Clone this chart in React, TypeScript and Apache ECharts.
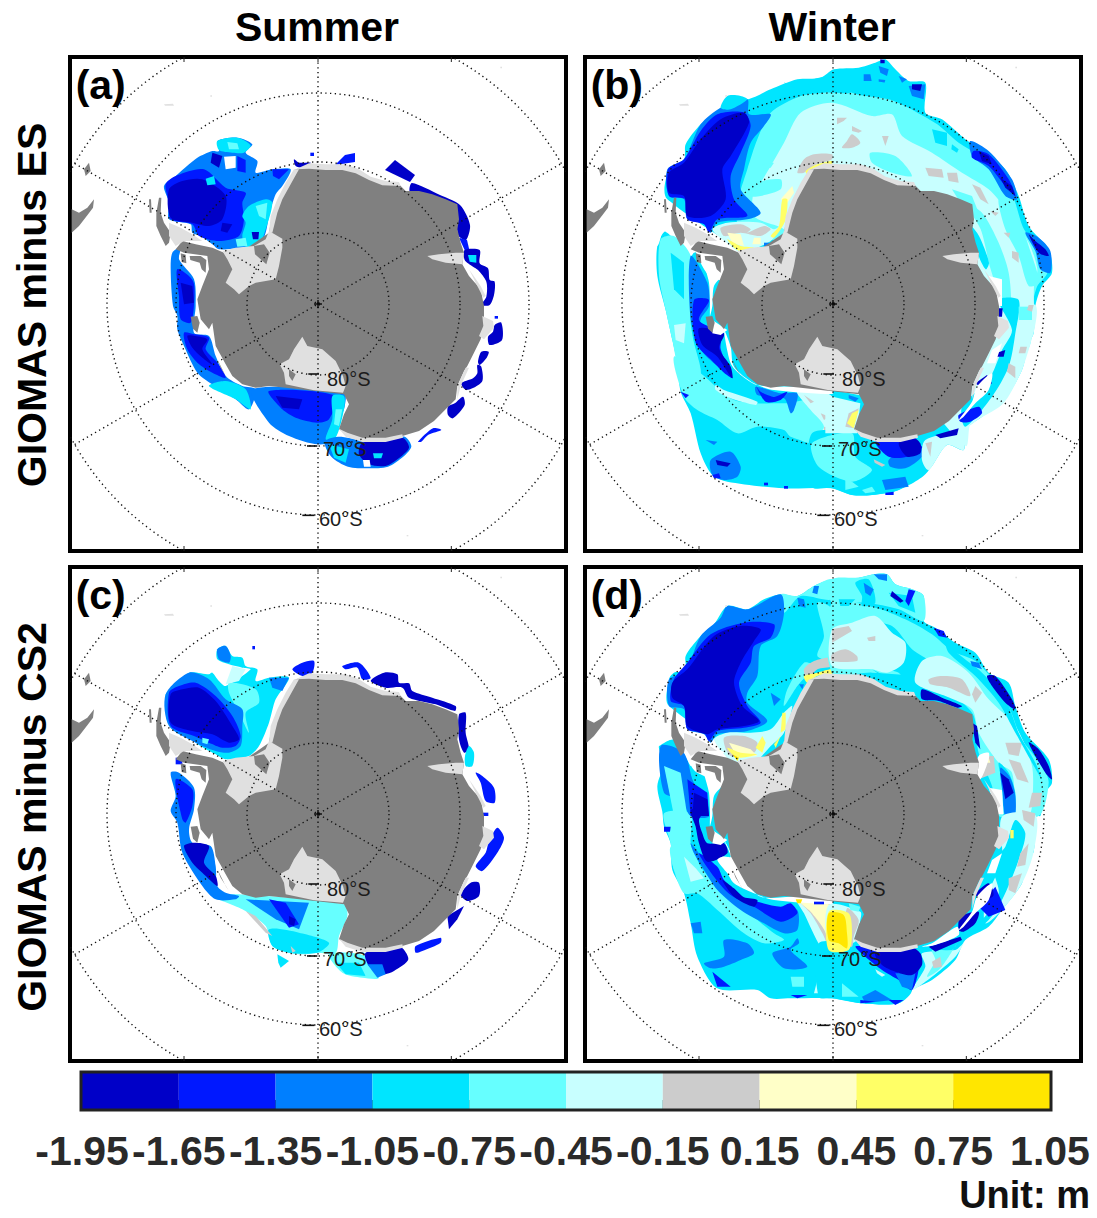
import React, { useEffect, useRef } from "react";
import * as echarts from "echarts";

// colour classes of the colour bar (last one: no-data white, land colours after)
const binColors = ["#0000C8", "#0018FF", "#007FFF", "#00E5FF", "#66FFFF", "#C8FFFF", "#CCCCCC", "#FFFFC8", "#FFFF66", "#FFE600"];
const W = 10, DARK = 11, ICE = 12;
const allColors = [...binColors, "#FFFFFF", "#808080", "#E0E0E0"];
const colorTicks = ["-1.95", "-1.65", "-1.35", "-1.05", "-0.75", "-0.45", "-0.15", "0.15", "0.45", "0.75", "1.05"];
const binIndex = [0, 1, 2, 3, 4, 5, 6, 7, 8, 9];

const ringRadii = [213, 426, 633, 843];
const spokeAngles = [90, 30, -30];
const pole = [747, 744];
const latLabels = [
  { text: "80°S", x: 774, y: 968, t0: 718, t1: 750, ty: 954 },
  { text: "70°S", x: 762, y: 1180, t0: 714, t1: 745, ty: 1170 },
  { text: "60°S", x: 750, y: 1388, t0: 700, t1: 736, ty: 1378 },
];
const frameTicks = [345, 747, 1147];

// [class, tileX, tileY, outline "x,y x,y ..."]
type Layer = [number, number, number, string];

const landLayers: Layer[] = [
  [DARK, 0, 0, "600,530 605,500 620,450 640,410 660,370 680,340 720,330 770,335 820,335 860,345 900,365 940,385 990,385 1010,405 1050,405 1090,415 1130,430 1165,445 1170,490 1165,520 1175,560 1185,590 1180,625 1200,660 1235,700 1245,750 1245,810 1235,850 1215,890 1195,930 1185,945 1165,990 1160,1030 1130,1060 1095,1095 1050,1125 1000,1140 950,1150 880,1150 835,1135 810,1120 825,1075 840,1045 825,1015 650,995 600,990 560,995 520,985 490,960 470,925 440,870 430,800 420,820 395,790 385,730 400,690 420,640 415,600 345,590 320,580 340,555 380,565 430,575 465,590 500,600"],
  [DARK, 0, 0, "262,470 270,425 277,425 275,470 285,500 305,530 300,560 290,570 275,540 262,510"],
  [DARK, 0, 0, "240,430 246,430 248,470 242,470"],
  [DARK, 0, 0, "335,592 350,596 352,622 338,618"],
  [DARK, 0, 0, "362,600 395,600 412,612 410,650 398,640 392,620 364,612"],
  [DARK, 0, 0, "365,782 385,780 392,800 385,830 372,818"],
  [DARK, 0, 0, "445,910 470,960 480,975 455,935"],
  [DARK, 0, 0, "75,430 72,455 55,478 30,510 8,530 8,460 30,470 55,455"],
  [DARK, 0, 0, "45,340 60,320 65,345 50,360"],
  [ICE, 0, 0, "285,145 312,143 315,149 288,149"],
  [ICE, 0, 0, "424,118 429,118 429,122 424,122"],
  [ICE, 0, 0, "1294,32 1299,32 1299,37 1294,37"],
  [ICE, 0, 0, "1013,1437 1018,1437 1018,1441 1013,1441"],
  [ICE, 0, 0, "300,500 335,515 370,535 400,555 345,555 320,570 300,540"],
  [ICE, 0, 0, "460,585 500,575 555,570 590,550 600,525 640,548 640,575 630,630 620,670 560,680 540,690 510,715 495,700 470,680 490,640 475,610"],
  [DARK, 0, 0, "555,570 585,565 602,590 592,625 575,610 558,595"],
  [ICE, 0, 0, "600,530 605,480 625,430 650,380 675,340 690,340 665,385 640,430 625,470 610,530"],
  [ICE, 0, 0, "680,340 720,322 770,325 830,325 870,340 905,362 950,375 990,378 995,390 940,388 900,372 860,352 820,342 770,342 720,338"],
  [ICE, 0, 0, "1075,600 1110,595 1160,590 1185,590 1180,625 1130,620 1090,610"],
  [ICE, 0, 0, "1200,640 1235,690 1250,720 1243,725 1225,690"],
  [ICE, 0, 0, "1240,780 1272,795 1275,815 1245,850 1230,840 1243,810"],
  [ICE, 0, 0, "1165,990 1190,935 1200,935 1175,990 1165,1030"],
  [ICE, 0, 0, "700,842 715,870 760,880 800,915 822,960 830,990 822,1010 735,1003 650,985 645,950 632,925 660,910 675,880"],
  [ICE, 0, 0, "810,1118 835,1130 880,1145 950,1145 1000,1135 1002,1145 950,1158 880,1158 830,1142"],
  [DARK, 0, 0, "660,940 680,955 670,975 660,960"],
];

const panelA: Layer[] = [
  [2, 0, 0, "445,255 505,245 550,265 530,290 565,315 560,350 610,340 665,340 640,390 620,415 600,480 590,530 570,570 520,575 450,580 430,565 395,540 370,530 365,505 300,490 300,440 285,390 320,360 360,325 385,305 430,285 450,285"],
  [W, 0, 0, "465,302 500,300 500,335 470,340"],
  [3, 0, 0, "445,255 505,245 545,268 525,290 490,290 450,282"],
  [4, 0, 0, "475,258 505,262 510,280 480,280"],
  [1, 0, 0, "290,385 325,358 405,340 470,395 530,410 520,440 525,490 510,540 450,555 390,540 370,505 305,490 300,440"],
  [1, 0, 0, "505,300 530,312 530,350 505,345"],
  [0, 0, 0, "300,400 340,375 400,370 470,420 460,490 420,510 370,500 305,485"],
  [0, 0, 0, "430,290 460,300 450,335 425,320"],
  [0, 0, 0, "460,500 490,505 475,530 455,525"],
  [3, 0, 0, "520,480 540,450 590,430 610,440 590,520 570,565 530,572 520,540 530,500"],
  [4, 0, 0, "560,450 595,440 590,490 570,480"],
  [4, 0, 0, "500,550 530,545 535,570 505,572"],
  [3, 0, 0, "410,368 435,360 440,385 415,388"],
  [0, 0, 0, "548,528 570,528 568,550 552,550"],
  [1, 0, 0, "610,340 660,340 630,370 612,360"],
  [0, 0, 0, "675,310 690,320 725,320 705,335 680,330"],
  [1, 0, 0, "724,290 735,290 735,300 724,300"],
  [1, 0, 0, "828,297 858,291 858,318 798,327"],
  [0, 0, 0, "978,312 1038,357 1023,378 948,342"],
  [0, 0, 0, "1029,381 1113,417 1173,447 1203,507 1191,552 1167,537 1158,468 1083,438 1023,408"],
  [1, 0, 0, "1170,545 1194,552 1203,590 1187,582"],
  [0, 747, 582, "440,0 485,0 485,40 510,55 515,90 530,95 528,135 515,165 490,165 505,140 505,95 480,60 465,50 440,30"],
  [3, 747, 582, "450,15 475,15 475,38 455,35"],
  [1, 747, 582, "530,198 540,198 540,206 530,206"],
  [0, 747, 582, "530,225 550,218 552,270 515,285 510,260 525,245"],
  [0, 747, 582, "490,305 512,305 505,325 485,345 480,335"],
  [0, 747, 582, "478,345 490,350 492,395 445,420 430,400 465,385 478,370"],
  [0, 747, 582, "435,440 440,465 405,505 390,495 390,470 410,460"],
  [1, 747, 582, "300,575 345,535 370,540 330,555 310,575"],
  // Bellingshausen / Amundsen coast
  [2, 0, 0, "310,590 335,575 330,610 375,670 380,750 375,830 420,840 440,900 470,960 520,990 560,1000 540,1060 500,1030 430,985 385,950 345,870 325,820 325,780 312,750 305,640"],
  [1, 0, 0, "325,640 372,675 375,745 365,800 335,790 330,720"],
  [2, 0, 0, "320,590 332,585 328,612 318,620"],
  [0, 0, 0, "335,680 370,690 375,740 345,745"],
  [1, 0, 0, "345,830 378,835 420,845 410,880 445,920 470,965 430,950 385,920 355,880"],
  [0, 0, 0, "355,840 378,840 415,850 400,880 430,925 400,905 370,875"],
  [3, 0, 0, "420,990 470,975 530,1000 545,1060 500,1030"],
  // Ross sea
  [2, 0, 0, "550,1000 825,1012 827,1052 812,1092 797,1142 880,1150 747,1165 660,1140 600,1100"],
  [1, 0, 0, "600,1005 800,1020 780,1090 745,1100 680,1085 640,1060"],
  [0, 0, 0, "620,1020 700,1030 690,1060 640,1055"],
  [3, 0, 0, "790,1020 825,1020 825,1060 800,1145 770,1150 790,1090"],
  [4, 0, 0, "800,1060 820,1060 810,1110 795,1105"],
  [2, 0, 0, "767,1157 807,1142 877,1152 947,1157 1007,1142 1027,1172 997,1207 957,1232 897,1237 837,1232 787,1202"],
  [0, 0, 0, "880,1160 1000,1145 1020,1175 985,1210 950,1230 900,1225 870,1195"],
  [3, 0, 0, "780,1165 840,1180 830,1220 795,1205"],
  [W, 747, 582, "135,630 155,630 158,650 138,650"],
  [3, 747, 582, "165,610 195,610 190,625 168,625"],
];

const panelC: Layer[] = [
  [3, 0, 0, "445,250 470,240 490,270 520,275 530,300 565,310 560,345 600,335 660,335 620,400 600,470 570,540 540,570 470,580 440,565 380,530 365,505 305,480 300,430 290,385 330,355 360,320 420,325 430,320 450,345 470,360 545,310 520,305 480,295 445,280"],
  [2, 0, 0, "445,250 470,240 485,270 480,290 450,280"],
  [4, 0, 0, "480,350 560,370 570,410 530,440 540,500 510,440 480,380"],
  [5, 0, 0, "490,300 530,310 510,345 470,355"],
  [2, 0, 0, "360,320 420,340 470,400 520,430 520,480 515,540 480,560 440,555 380,530 300,480 290,385"],
  [1, 0, 0, "300,380 330,360 380,350 440,390 490,450 515,510 500,540 460,545 420,530 375,510 305,480"],
  [0, 0, 0, "305,385 340,370 390,365 440,405 490,480 510,520 480,530 430,505 370,495 305,470"],
  [4, 0, 0, "400,515 420,520 415,535 400,530"],
  [2, 0, 0, "600,335 660,335 640,375 610,365"],
  [1, 0, 0, "550,240 558,240 558,250 550,250"],
  [1, 0, 0, "670,310 700,290 735,285 730,320 700,330"],
  [1, 0, 0, "820,300 870,290 905,335 880,340 865,305 830,310"],
  [0, 0, 0, "905,345 945,320 985,325 990,350 1020,352 1030,375 1090,395 1160,420 1158,435 1100,415 1020,395 1000,365 950,365"],
  [0, 0, 0, "1170,445 1190,440 1190,500 1200,550 1185,560 1170,520"],
  [3, 0, 0, "1200,540 1215,560 1210,600 1190,600 1188,570"],
  [1, 0, 0, "1220,620 1240,630 1275,665 1277,710 1250,705 1235,650"],
  [1, 0, 0, "1240,740 1258,740 1258,750 1240,750"],
  [1, 0, 0, "1285,785 1305,815 1285,860 1240,915 1220,900 1250,860 1260,825"],
  [0, 0, 0, "1205,950 1230,950 1230,990 1195,1005 1175,985"],
  [0, 0, 0, "1135,1050 1185,1020 1165,1060 1140,1090"],
  [1, 0, 0, "1040,1140 1115,1115 1115,1130 1060,1155 1040,1160"],
  [4, 0, 0, "780,1165 890,1170 930,1235 880,1235 820,1220"],
  [3, 0, 0, "800,1190 870,1190 890,1230 830,1225"],
  [0, 0, 0, "890,1160 990,1140 1018,1180 975,1215 940,1225 900,1200"],
  [2, 0, 0, "895,1195 940,1195 950,1225 925,1235"],
  [3, 0, 0, "625,1165 660,1185 635,1205 628,1190"],
  [4, 0, 0, "510,985 825,1015 835,1050 810,1110 800,1160 745,1160 700,1165 660,1160 610,1140 590,1080 520,1030 430,990"],
  [3, 0, 0, "600,1090 690,1100 780,1130 745,1160 660,1160 610,1140"],
  [2, 0, 0, "530,1000 720,1010 690,1090 620,1060"],
  [1, 0, 0, "600,1000 650,1010 690,1075 660,1085"],
  [0, 0, 0, "660,1050 680,1060 675,1080 660,1075"],
  [6, 0, 0, "530,1035 560,1050 610,1110 590,1100"],
  [6, 0, 0, "665,1140 680,1155 670,1160"],
  [1, 0, 0, "320,575 340,575 340,595 320,595"],
  [2, 0, 0, "305,620 330,620 375,665 375,730 360,790 370,830 425,840 440,900 445,960 470,980 510,990 500,1000 440,1000 400,960 340,860 325,770 305,735 320,690"],
  [1, 0, 0, "320,640 370,670 370,720 350,770 340,760"],
  [0, 0, 0, "345,840 375,830 420,840 405,890 440,930 445,960 400,920 370,890"],
];

const panelB: Layer[] = [
  [3, 0, 0, "250,430 255,340 300,310 305,265 350,205 410,155 450,120 490,130 560,100 640,70 710,65 750,40 824,35 874,20 904,10 934,40 974,75 1024,80 1024,170 1074,190 1144,250 1204,290 1264,340 1304,420 1334,510 1394,580 1404,650 1374,690 1354,750 1349,832 1334,862 1314,942 1254,1042 1194,1082 1144,1122 1139,1182 1089,1167 1034,1242 944,1302 864,1317 804,1317 744,1297 600,1297 430,1277 385,1257 350,1192 320,1072 290,1007 280,922 265,852 245,762 220,660 220,570 245,525 300,540 330,580 380,660 800,800"],
  [4, 0, 0, "460,440 490,340 520,250 560,170 650,120 720,110 744,110 844,110 924,130 1000,170 1060,205 1124,260 1190,300 1250,350 1290,430 1320,520 1375,590 1390,650 1360,690 1345,750 1340,860 1290,950 1200,1050 1000,900 800,700 600,560 500,540 460,500"],
  [3, 0, 0, "600,80 660,100 690,70 744,60 800,60 800,110 700,100"],
  [2, 744, 0, "95,55 115,55 120,80 95,85"],
  [2, 744, 0, "140,30 170,40 165,60 145,50"],
  [2, 744, 0, "140,70 160,72 155,90 140,85"],
  [2, 744, 0, "200,60 225,70 210,80"],
  [0, 744, 0, "145,10 158,12 158,22 145,22"],
  [2, 744, 0, "230,90 280,85 275,130 240,120"],
  [0, 744, 0, "240,85 270,85 265,105 240,100"],
  [3, 744, 0, "50,80 160,80 240,130 270,170 170,130 60,110"],
  [5, 0, 0, "510,400 530,380 600,260 650,170 744,140 864,180 924,175 954,240 1044,290 1134,350 1214,400 1274,470 1334,560 1360,640 1350,690 1350,800 1340,860 1310,950 1260,1040 1200,1080 1160,1100 1145,1170 1000,1000 800,700 600,520 510,480"],
  [4, 0, 0, "500,420 520,380 590,370 590,400 530,420"],
  [4, 744, 0, "115,290 190,300 240,360 180,350 120,320"],
  [4, 0, 0, "535,325 570,320 560,335 540,338"],
  [3, 744, 0, "300,220 345,230 345,270 310,260"],
  [3, 744, 0, "360,265 380,280 375,290 358,280"],
  [4, 744, 0, "500,430 550,470 600,600 620,680 590,690 560,600 520,520"],
  [4, 0, 0, "1144,440 1194,470 1244,560 1274,650 1280,750 1260,750 1220,640 1190,520"],
  [3, 0, 0, "1160,510 1185,540 1215,620 1205,640 1180,590"],
  [4, 744, 0, "360,400 420,420 440,470 410,480"],
  [2, 744, 0, "580,530 620,545 655,585 655,650 625,640 610,585"],
  [0, 744, 0, "590,535 610,555 640,580 650,600 620,590"],
  [2, 744, 0, "415,255 470,285 540,370 555,430 520,420 470,340 420,300"],
  [1, 744, 0, "425,285 470,295 530,370 550,420 520,390 470,330 420,305"],
  [0, 744, 0, "440,285 470,300 480,325 450,315"],
  [0, 744, 0, "505,365 540,390 550,420 520,395"],
  [6, 744, 0, "280,335 330,340 335,365 290,360"],
  [6, 744, 0, "345,350 375,350 380,380 350,375"],
  [6, 744, 0, "420,385 445,395 470,445 445,430"],
  [6, 744, 0, "45,255 60,235 85,260 60,275 30,275"],
  [6, 744, 0, "60,210 90,225 80,230 60,225"],
  [6, 744, 0, "150,240 170,240 160,270"],
  [6, 744, 0, "15,185 45,185 35,195 15,205"],
  [6, 744, 0, "540,585 560,590 560,620 540,605"],
  [6, 744, 0, "475,465 500,470 490,480"],
  [6, 744, 0, "515,530 535,530 530,545"],
  // Weddell
  [2, 0, 0, "410,155 490,130 495,175 560,175 540,210 500,260 480,340 470,400 530,470 490,490 400,500 380,530 360,500 310,490 300,430 255,420 250,340 300,310 350,205"],
  [3, 0, 0, "430,120 470,120 490,130 440,160 410,155"],
  [1, 0, 0, "300,310 350,225 400,175 480,170 500,210 470,290 440,360 450,430 490,480 400,490 375,530 360,505 310,490 305,430 255,420 252,340"],
  [0, 0, 0, "255,350 300,320 350,250 410,190 480,170 495,200 440,300 415,340 425,430 380,480 310,480 300,420 255,410"],
  [5, 0, 0, "385,520 430,500 530,500 570,520 590,510 560,555 470,590 440,570"],
  [6, 0, 0, "410,515 470,505 500,520 490,530 540,510 560,520 530,540 470,530 420,540"],
  [7, 0, 0, "430,530 470,535 480,570 445,560"],
  [8, 0, 0, "430,550 470,570 510,575 470,585 450,575"],
  [7, 0, 0, "510,545 530,545 530,565 505,565"],
  [6, 0, 0, "640,350 660,310 690,295 744,295 744,310 700,325 660,350"],
  [8, 0, 0, "665,345 700,325 745,315 740,330 700,340 670,355"],
  [7, 0, 0, "590,430 625,390 630,410 610,440"],
  [8, 0, 0, "595,430 610,430 605,490 590,520 570,545 560,540 585,510"],
  [2, 0, 0, "540,560 555,560 555,570 540,570"],
  [W, 0, 0, "180,440 255,435 285,470 320,510 370,540 420,560 330,590 320,600 240,525 220,570 180,570"],
  // west sector
  [4, 0, 0, "230,550 270,540 320,600 320,740 320,800 330,860 350,940 345,1000 300,950 280,922 265,852 245,762 225,660"],
  [3, 0, 0, "260,590 300,620 300,730 270,700"],
  [5, 0, 0, "270,807 305,802 300,862 275,852"],
  [2, 0, 0, "320,600 370,680 375,750 350,790 345,850 410,900 440,950 400,930 350,880 320,790"],
  [1, 0, 0, "330,732 375,732 345,792 410,832 410,880 445,965 420,950 380,910 335,860"],
  [0, 0, 732, "345,85 420,100 405,145 440,200 445,235 400,170 355,135"],
  [4, 0, 732, "270,170 350,220 450,300 600,310 720,300 745,440 620,410 600,390 520,380 460,400 400,360 340,330 300,290"],
  [5, 0, 732, "395,255 420,270 520,305 515,315 440,295 395,270"],
  [2, 0, 732, "515,260 590,280 640,280 630,330 620,340 600,295 520,285"],
  [1, 0, 732, "515,255 530,275 570,290 610,275 590,300 545,305"],
  [2, 0, 732, "380,480 440,455 470,500 460,530 420,540 385,525"],
  [0, 0, 732, "395,480 440,490 430,500 400,495"],
  [1, 0, 732, "385,525 405,520 410,535 390,535"],
  [2, 0, 732, "365,420 400,425 390,435"],
  [1, 0, 732, "290,275 315,285 305,295"],
  [5, 0, 732, "640,275 745,290 745,440 690,420 720,380 680,330"],
  [6, 0, 732, "660,285 690,305 680,310"],
  [6, 0, 732, "710,340 735,350 720,360"],
  [6, 0, 732, "720,380 750,385 745,420 720,410"],
  [5, 0, 732, "700,510 745,520 745,550 700,550"],
  [1, 0, 732, "540,548 552,548 552,556 540,556"],
  [1, 0, 732, "600,558 612,558 612,566 600,566"],
  // south-east sector
  [3, 744, 732, "-60,400 70,400 120,430 270,420 290,510 200,570 120,585 60,585 0,565 -60,560"],
  [4, 744, 732, "-60,430 60,400 70,470 120,510 60,545 -40,500"],
  [4, 744, 732, "40,530 80,560 40,570"],
  [4, 744, 732, "100,580 130,575 120,560 90,570"],
  [5, 744, 732, "-20,285 85,310 75,400 -20,400"],
  [6, 744, 732, "50,340 80,325 65,385 40,380"],
  [8, 744, 732, "60,340 80,330 65,385 45,370"],
  [2, 744, 732, "50,285 80,295 70,305 50,295"],
  [2, 744, 732, "170,480 225,440 270,440 270,470 220,505 175,500"],
  [1, 744, 732, "130,425 200,425 270,440 225,470 170,470"],
  [0, 744, 732, "200,430 240,410 265,430 265,460 225,470"],
  [2, 744, 732, "150,540 220,530 230,560 160,570"],
  [1, 744, 732, "160,578 185,575 185,585 160,585"],
  [6, 744, 732, "125,478 160,495 150,500 128,488"],
  [5, 744, 732, "280,420 390,400 395,450 345,435 290,510 270,480"],
  [6, 744, 732, "280,430 300,425 295,470"],
  [5, 744, 732, "390,390 450,350 510,310 570,210 590,130 605,100 610,15 520,20 500,150 440,300"],
  [3, 744, 732, "390,320 470,240 510,150 540,90 500,0 560,0 550,100 530,200 480,290 400,380"],
  [4, 744, 732, "560,20 600,20 600,60 560,60"],
  [0, 744, 732, "310,405 380,385 375,405 325,415"],
  [1, 744, 732, "380,345 440,320 450,340 415,365 385,365"],
  [0, 744, 732, "430,250 465,225 480,250 450,265"],
  [0, 744, 732, "490,160 520,150 515,170 490,170"],
  [0, 744, 732, "498,25 512,25 510,50 498,50"],
  [6, 744, 732, "590,15 605,15 600,35 585,30"],
  [6, 744, 732, "530,190 550,200 550,235 525,215"],
  [6, 744, 732, "565,140 585,140 580,160 560,160"],
  [W, 744, 732, "465,190 480,150 510,130 490,190"],
  [W, 744, 732, "380,360 420,305 435,260 480,220 470,270 430,310 395,350"],
  [W, 744, 0, "470,660 510,670 510,750 490,750"],
  [W, 0, 732, "420,90 440,140 450,200 510,250 570,270 745,282 745,270 640,260 520,255 470,225 440,190"],
  [W, 0, 732, "385,60 430,90 410,105 385,100"],
  [W, 0, 732, "745,270 825,285 825,275"],
  [W, 0, 0, "360,600 420,600 420,650 390,690 385,750 378,780 378,740 375,680"],
];

const panelD: Layer[] = [
  [3, 0, 0, "255,420 255,340 270,320 305,315 305,270 350,210 390,175 430,120 490,130 540,100 590,85 640,90 690,60 744,40 824,35 869,25 909,25 934,55 984,70 1019,90 1019,165 1054,185 1114,230 1174,260 1214,320 1274,350 1294,420 1324,500 1394,580 1404,650 1384,680 1369,750 1354,747 1349,857 1319,902 1314,952 1254,1032 1214,1082 1144,1122 1114,1182 1044,1242 984,1272 944,1312 834,1312 744,1297 620,1297 560,1297 520,1272 400,1267 340,1172 320,1072 300,982 265,912 260,832 240,782 235,737 220,660 240,590 225,540 270,520 300,560 340,620 800,800"],
  [4, 0, 0, "590,85 640,90 690,60 744,40 744,100 650,90 600,140"],
  [2, 0, 0, "690,60 705,60 700,85 685,80"],
  [2, 0, 0, "640,95 660,100 665,125 645,120"],
  [4, 0, 0, "700,110 744,130 744,280 700,270 720,210"],
  [2, 0, 0, "410,155 430,120 490,130 590,85 600,140 580,210 530,240 520,330 490,380 490,410 550,465 490,495 400,505 380,530 360,505 310,490 300,430 255,420 255,340 305,315 350,210"],
  [1, 0, 0, "270,340 310,290 380,205 480,170 570,175 560,215 510,240 500,290 465,350 490,420 530,470 480,485 400,495 375,525 360,500 310,490 300,420 260,405"],
  [0, 0, 0, "265,350 310,310 390,210 470,180 530,190 510,225 470,290 450,350 475,420 525,465 480,480 400,490 370,505 310,480 300,420 265,395"],
  [2, 0, 0, "560,380 590,400 570,420"],
  [4, 0, 0, "600,420 640,360 690,300 660,290 610,370"],
  [5, 0, 0, "390,520 430,500 500,500 560,490 600,440 625,420 600,500 560,540 520,580 450,590"],
  [6, 0, 0, "420,515 480,510 520,530 510,560 440,570"],
  [7, 0, 0, "435,530 500,550 520,570 460,575"],
  [8, 0, 0, "430,545 470,560 520,565 470,575 445,565"],
  [9, 0, 0, "445,565 465,575 460,585"],
  [8, 0, 0, "515,545 535,510 545,530 535,560"],
  [8, 0, 0, "595,440 605,440 605,490 590,500"],
  [8, 0, 0, "570,535 590,510 575,545"],
  [6, 0, 0, "660,310 690,285 744,275 744,300 700,310 670,340"],
  [8, 0, 0, "660,330 700,320 744,310 744,325 700,330 670,350"],
  [2, 0, 0, "645,355 660,355 655,370"],
  // north-east sector
  [4, 744, 0, "0,110 130,125 220,160 300,205 360,255 430,285 490,350 530,420 570,520 630,600 650,650 620,750 500,750 480,660 440,560 420,440 280,340 120,320 0,320"],
  [3, 744, 0, "100,170 170,210 220,230 200,280 120,300 200,320 230,360 290,290 240,250 180,180"],
  [5, 744, 0, "0,190 60,170 130,150 180,200 220,230 215,290 165,320 120,310 0,300"],
  [5, 744, 0, "250,350 270,285 330,270 410,320 470,400 550,480 600,600 600,720 590,750 555,750 540,620 500,590 440,500 420,430 340,390"],
  [6, 744, 0, "290,340 330,330 390,340 415,390 350,365 295,355"],
  [6, 744, 0, "430,360 450,380 430,410 420,385"],
  [6, 744, 0, "520,530 570,530 560,570 530,565"],
  [6, 744, 0, "530,580 565,590 590,650 555,640"],
  [6, 744, 0, "445,570 485,570 490,620 440,640"],
  [7, 744, 0, "445,570 470,575 475,590 450,590"],
  [6, 744, 0, "0,190 50,180 60,195 0,230"],
  [6, 744, 0, "0,265 40,250 75,270 75,285 0,285"],
  [6, 744, 0, "105,215 130,210 130,225 110,225"],
  [6, 744, 0, "600,680 630,680 625,720 590,725"],
  [3, 744, 0, "120,310 230,365 170,345"],
  [9, 744, 0, "440,590 455,590 445,620 438,620"],
  [4, 744, 0, "0,40 80,35 125,25 165,25 190,55 240,70 275,90 275,165 200,130 100,110 0,110"],
  [3, 744, 0, "70,50 110,40 130,110 90,120 90,90"],
  [3, 744, 0, "170,80 240,90 250,140 200,120"],
  [3, 744, 0, "20,100 70,100 50,120 25,120"],
  [2, 744, 0, "125,25 165,25 165,45 140,40"],
  [2, 744, 0, "95,50 125,70 115,90 100,80"],
  [0, 744, 0, "180,75 215,105 205,110 175,90"],
  [1, 744, 0, "230,70 250,75 230,120 220,105"],
  [3, 744, 0, "340,225 380,265 450,320 520,400 560,500 610,590 630,640 600,590 550,500 500,410 430,330 350,260"],
  [1, 744, 0, "305,185 335,195 345,215 320,210"],
  [2, 744, 0, "415,285 440,290 450,310 420,300"],
  [0, 744, 0, "465,330 490,330 540,400 550,430 520,410 480,360"],
  [0, 744, 0, "590,530 620,550 650,600 660,640 640,620"],
  [0, 744, 0, "270,370 330,395 390,420 375,425 320,405 270,400"],
  [0, 744, 0, "420,470 435,480 445,550 430,530"],
  [3, 744, 0, "500,590 530,620 550,680 545,740 515,750 510,650"],
  [2, 744, 0, "505,605 535,635 550,690 548,750 520,750 512,680"],
  [0, 744, 0, "505,620 530,640 545,680 520,700"],
  [W, 744, 0, "470,665 510,672 515,745 495,745"],
  [W, 744, 0, "440,570 470,560 470,580 445,640 420,640"],
  // south-west sector
  [4, 0, 732, "240,10 320,10 320,100 340,180 300,210 270,180 260,100"],
  [2, 0, 0, "230,540 300,560 325,640 375,750 320,750 290,700 240,680"],
  [4, 0, 0, "240,600 290,620 310,750 270,750"],
  [1, 0, 0, "310,640 370,680 375,750 320,750"],
  [0, 0, 0, "330,680 370,700 375,750 325,750"],
  [W, 0, 0, "180,440 255,435 285,470 320,510 370,540 420,560 330,590 320,600 300,560 270,520 225,540 180,570"],
  [4, 0, 732, "260,110 320,110 350,170 400,230 460,280 520,330 570,370 600,390 540,400 480,370 400,300 340,250 300,250 270,180"],
  [5, 0, 732, "300,140 335,175 360,205 320,215"],
  [2, 0, 732, "320,100 345,130 400,200 470,265 540,290 600,310 640,300 640,360 600,370 540,340 470,300 400,240 360,180 330,130"],
  [1, 0, 732, "345,130 400,170 420,210 470,260 520,275 590,290 620,280 640,310 590,335 510,290 440,255 390,200"],
  [0, 0, 732, "320,0 360,0 345,30 355,70 370,100 420,100 430,130 370,155 345,100 335,50"],
  [0, 0, 732, "415,210 450,235 480,262 520,270 510,290 450,260"],
  [7, 0, 732, "405,150 435,140 440,155 420,160"],
  [2, 0, 732, "420,390 490,400 510,430 470,450 420,470 380,475 360,460 420,440"],
  [2, 0, 732, "565,430 620,410 640,385 645,400 620,420 670,470 600,475"],
  [2, 0, 732, "320,340 350,335 355,370 330,370"],
  [1, 0, 732, "385,485 440,530 400,530"],
  [1, 0, 732, "240,50 260,50 258,65 240,65"],
  [4, 0, 732, "620,500 660,500 660,530 625,530"],
  [5, 0, 732, "700,510 745,530 745,550 690,550"],
  [1, 0, 732, "620,555 670,555 640,565"],
  // Ross
  [5, 0, 732, "640,270 750,290 750,440 710,410 660,310"],
  [6, 0, 732, "645,270 745,285 745,430 715,370 680,310"],
  [7, 0, 732, "645,272 745,290 745,400 715,350 680,305"],
  [9, 0, 732, "730,300 750,295 750,385 730,350"],
  [W, 0, 732, "420,90 440,140 415,140 400,150 430,190 450,220 510,250 570,270 745,282 745,270 640,260 520,255"],
  [W, 0, 732, "385,60 430,90 410,105 385,100"],
  [W, 0, 0, "360,600 420,600 420,650 390,690 385,750 378,780 378,740 375,680"],
  [9, 0, 732, "635,268 655,268 650,280 640,280"],
  [1, 0, 732, "690,275 720,275 720,283 690,283"],
  // south-east sector
  [3, 744, 732, "-40,400 70,410 120,445 190,490 240,540 200,580 90,580 0,565 -40,560"],
  [5, 744, 732, "-10,285 85,305 85,330 70,395 -10,400"],
  [6, 744, 732, "45,295 80,330 65,380 60,410 40,400"],
  [8, 744, 732, "-10,305 50,310 60,370 50,420 -10,420"],
  [9, 744, 732, "-10,310 35,315 45,370 45,415 20,400 -10,390"],
  [4, 744, 732, "50,280 85,290 80,305 55,300"],
  [5, 744, 732, "270,430 370,420 395,400 370,440 300,500 240,540 280,470"],
  [4, 744, 732, "300,420 360,420 375,400 350,440 320,480 285,500 310,450"],
  [4, 744, 732, "30,520 80,560 30,560"],
  [2, 744, 732, "90,560 130,540 180,570 100,580"],
  [1, 744, 732, "70,410 130,420 170,470 230,495 260,470 240,540 200,510 150,480"],
  [2, 744, 732, "190,490 250,490 240,540 210,530"],
  [0, 744, 732, "130,430 235,410 265,430 270,465 240,495 190,485 150,465"],
  [1, 744, 732, "85,570 130,575 85,580"],
  [1, 744, 732, "170,570 215,570 190,585"],
  [5, 744, 732, "130,478 160,495 150,500 135,490"],
  [6, 744, 732, "300,455 325,440 330,470 305,475"],
  [5, 744, 732, "460,340 510,300 570,220 605,125 610,15 510,20 510,150 460,270"],
  [3, 744, 732, "480,160 520,110 550,30 580,70 560,150 510,270 470,330 400,385 370,380 450,330 500,250"],
  [0, 744, 732, "290,410 385,380 390,390 310,425"],
  [0, 744, 732, "385,320 440,305 430,340 395,365 380,360"],
  [1, 744, 732, "440,290 490,230 520,300 470,320"],
  [0, 744, 732, "430,250 470,220 485,255 460,270 430,255"],
  [6, 744, 732, "530,205 570,190 550,250 530,240"],
  [6, 744, 732, "565,130 590,100 580,165 555,170"],
  [6, 744, 732, "570,0 610,10 605,50 575,30"],
  [8, 744, 732, "535,60 545,60 545,85 535,85"],
  [W, 744, 732, "465,190 480,150 510,130 490,190"],
  [W, 744, 732, "380,360 420,305 435,260 480,220 470,270 430,310 395,350"],
  [W, 744, 732, "270,410 310,405 380,375 375,350 300,400"],
];

const panelTags = ["(a)", "(b)", "(c)", "(d)"];
const panelLayers = [panelA, panelB, panelC, panelD];
const columnTitles = ["Summer", "Winter"];
const rowTitles = ["GIOMAS minus ES", "GIOMAS minus CS2"];

function parse(layer: Layer) {
  const [, dx, dy, s] = layer;
  return s.split(" ").map((p) => {
    const [x, y] = p.split(",").map(Number);
    return [x + dx, y + dy];
  });
}

const FONT = '"Liberation Sans", Arial, sans-serif';
const gridBoxes = [
  { left: 70, top: 57 },
  { left: 585, top: 57 },
  { left: 70, top: 567 },
  { left: 585, top: 567 },
];

function buildOption() {
  const grid: any[] = gridBoxes.map((b) => ({
    left: b.left, top: b.top, width: 496, height: 494, show: true,
    backgroundColor: "#fff", borderColor: "#000", borderWidth: 4,
  }));
  grid.push({ left: 82, top: 1073, width: 968, height: 36, show: false });
  const xAxis: any[] = gridBoxes.map((_, i) => ({ type: "value", gridIndex: i, min: 3, max: 1491, show: false }));
  const yAxis: any[] = gridBoxes.map((_, i) => ({ type: "value", gridIndex: i, min: 3, max: 1485, inverse: true, show: false }));
  xAxis.push({
    type: "value", gridIndex: 4, min: 0, max: 10, interval: 1, position: "bottom",
    axisLine: { show: false }, splitLine: { show: false },
    axisTick: { show: true, inside: true, length: 9, lineStyle: { color: "#222", width: 2 } },
    axisLabel: {
      show: true, margin: 21, fontFamily: FONT, fontWeight: "bold", fontSize: 41, color: "#2a2a2a",
      formatter: (v: number) => colorTicks[Math.round(v)],
    },
  });
  yAxis.push({ type: "value", gridIndex: 4, min: 0, max: 1, show: false });

  const series: any[] = [];
  panelLayers.forEach((layers, i) => {
    const all = [...layers, ...landLayers];
    const oceanCount = layers.length;
    series.push({
      type: "custom", xAxisIndex: i, yAxisIndex: i, coordinateSystem: "cartesian2d", clip: true, silent: true, z: 2,
      data: all.map((_, k) => [k, 0]),
      renderItem: (p: any, api: any) => {
        const layer = all[p.dataIndex];
        const pts = parse(layer);
        return {
          type: "polygon",
          shape: { points: pts.map((pt) => api.coord(pt)), smooth: p.dataIndex < oceanCount && pts.length > 4 ? 0.28 : 0 },
          style: { fill: allColors[layer[0]], stroke: null },
        };
      },
    });
    // graticule
    const gratRows = [
      ...ringRadii.map((r) => ["ring", r, 0]),
      ...spokeAngles.map((a) => ["spoke", a, 0]),
    ];
    series.push({
      type: "custom", xAxisIndex: i, yAxisIndex: i, coordinateSystem: "cartesian2d", clip: true, silent: true, z: 3,
      data: gratRows.map((_, k) => [k, 0]),
      renderItem: (p: any, api: any) => {
        const [kind, v] = gratRows[p.dataIndex] as [string, number];
        const dash = { stroke: "#111", lineWidth: 1.4, lineDash: [1.3, 3.4], fill: "none" };
        if (kind === "ring") {
          const c = api.coord(pole);
          const r = api.size([v, 0])[0];
          return { type: "circle", shape: { cx: c[0], cy: c[1], r }, style: dash };
        }
        const R = kind === "spoke" && v === 90 ? 1500 : 843;
        const rad = (v * Math.PI) / 180;
        const a = api.coord([pole[0] - R * Math.cos(rad), pole[1] - R * Math.sin(rad)]);
        const b = api.coord([pole[0] + R * Math.cos(rad), pole[1] + R * Math.sin(rad)]);
        return { type: "line", shape: { x1: a[0], y1: a[1], x2: b[0], y2: b[1] }, style: dash };
      },
    });
    // ticks and labels
    const noteRows = [
      ...latLabels.map((l) => ({ kind: "lat", l })),
      ...frameTicks.map((t) => ({ kind: "top", t })),
      ...frameTicks.map((t) => ({ kind: "bottom", t })),
      { kind: "pole" },
      { kind: "tag" },
    ] as any[];
    series.push({
      type: "custom", xAxisIndex: i, yAxisIndex: i, coordinateSystem: "cartesian2d", clip: false, silent: true, z: 4,
      data: noteRows.map((_, k) => [k, 0]),
      renderItem: (p: any, api: any) => {
        const row = noteRows[p.dataIndex];
        if (row.kind === "lat") {
          const a = api.coord([row.l.t0, row.l.ty]);
          const b = api.coord([row.l.t1, row.l.ty]);
          const t = api.coord([row.l.x, row.l.y]);
          return {
            type: "group",
            children: [
              { type: "line", shape: { x1: a[0], y1: a[1], x2: b[0], y2: b[1] }, style: { stroke: "#111", lineWidth: 1.6 } },
              { type: "text", style: { x: t[0], y: t[1], text: row.l.text, fontFamily: FONT, fontSize: 20, fill: "#1c1c1c", verticalAlign: "middle", align: "left" } },
            ],
          };
        }
        if (row.kind === "top" || row.kind === "bottom") {
          const y0 = row.kind === "top" ? 3 : 1485;
          const y1 = row.kind === "top" ? 18 : 1470;
          const a = api.coord([row.t, y0]);
          const b = api.coord([row.t, y1]);
          return { type: "line", shape: { x1: a[0], y1: a[1], x2: b[0], y2: b[1] }, style: { stroke: "#222", lineWidth: 1 } };
        }
        if (row.kind === "pole") {
          const c = api.coord(pole);
          return {
            type: "group",
            children: [
              { type: "line", shape: { x1: c[0] - 4, y1: c[1], x2: c[0] + 4, y2: c[1] }, style: { stroke: "#000", lineWidth: 1.3 } },
              { type: "line", shape: { x1: c[0], y1: c[1] - 4, x2: c[0], y2: c[1] + 4 }, style: { stroke: "#000", lineWidth: 1.3 } },
            ],
          };
        }
        const t = api.coord([20, 86]);
        return { type: "text", style: { x: t[0], y: t[1], text: panelTags[i], fontFamily: FONT, fontWeight: "bold", fontSize: 41, fill: "#000", verticalAlign: "middle", align: "left" } };
      },
    });
  });

  // colour bar
  series.push({
    type: "custom", xAxisIndex: 4, yAxisIndex: 4, coordinateSystem: "cartesian2d", silent: true, z: 1,
    data: binIndex.map((b) => [b, 0]),
    renderItem: (_p: any, api: any) => {
      const b = api.value(0);
      const s = api.coord([b, 1]);
      const e = api.coord([b + 1, 0]);
      return { type: "rect", shape: { x: s[0], y: s[1], width: e[0] - s[0], height: e[1] - s[1] }, style: { fill: binColors[b], stroke: null } };
    },
  });

  const graphic = [
    { type: "rect", z: 5, shape: { x: 81, y: 1072, width: 970, height: 38 }, style: { fill: "none", stroke: "#222", lineWidth: 3 } },
    { type: "text", x: 317, y: 27, style: { text: columnTitles[0], font: `bold 41px ${FONT}`, fill: "#000", textAlign: "center", textVerticalAlign: "middle" } },
    { type: "text", x: 832, y: 27, style: { text: columnTitles[1], font: `bold 41px ${FONT}`, fill: "#000", textAlign: "center", textVerticalAlign: "middle" } },
    { type: "text", x: 32, y: 305, rotation: Math.PI / 2, style: { text: rowTitles[0], font: `bold 41px ${FONT}`, fill: "#000", textAlign: "center", textVerticalAlign: "middle" } },
    { type: "text", x: 32, y: 817, rotation: Math.PI / 2, style: { text: rowTitles[1], font: `bold 41px ${FONT}`, fill: "#000", textAlign: "center", textVerticalAlign: "middle" } },
    { type: "text", x: 1090, y: 1195, style: { text: "Unit: m", font: `bold 38px ${FONT}`, fill: "#111", textAlign: "right", textVerticalAlign: "middle" } },
  ];

  return { animation: false, backgroundColor: "#fff", grid, xAxis, yAxis, series, graphic };
}

export default function App() {
  const ref = useRef<HTMLDivElement>(null);
  useEffect(() => {
    document.body.style.margin = "0";
    const chart = echarts.init(ref.current!, null, { renderer: "svg" });
    chart.setOption(buildOption() as any);
    return () => chart.dispose();
  }, []);
  return <div ref={ref} style={{ width: 1097, height: 1218 }} />;
}
